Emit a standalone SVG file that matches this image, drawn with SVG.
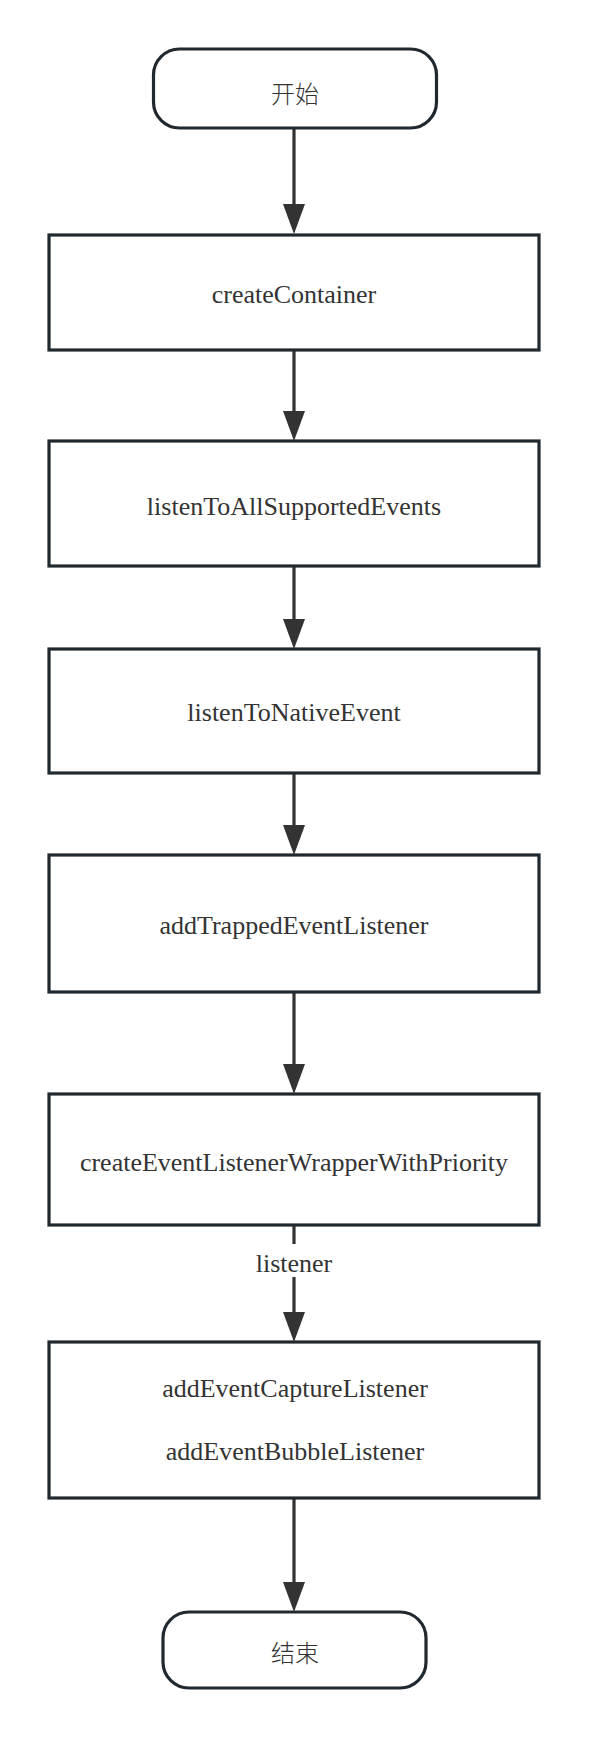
<svg xmlns="http://www.w3.org/2000/svg" width="590" height="1738" viewBox="0 0 590 1738">
<defs>
<style>
.node{fill:#ffffff;stroke:#212930;stroke-width:3.2}
.lbl{font-family:'Liberation Serif','Times New Roman','DejaVu Serif',serif;font-size:26px;fill:#333333;text-anchor:middle}
.cjk{font-family:'Noto Sans CJK SC',sans-serif;font-size:24px;font-weight:300;fill:#333333;text-anchor:middle}
.edge{stroke:#333333;stroke-width:3.2;fill:none}
.head{fill:#333333}
</style>
</defs>
<rect width="590" height="1738" fill="#ffffff"/>
<g id="edges">
<line class="edge" x1="294" y1="128" x2="294" y2="204"/>
<path class="head" d="M283,204 L305,204 L294,234 Z"/>
<line class="edge" x1="294" y1="350" x2="294" y2="411"/>
<path class="head" d="M283,411 L305,411 L294,441 Z"/>
<line class="edge" x1="294" y1="566" x2="294" y2="619"/>
<path class="head" d="M283,619 L305,619 L294,649 Z"/>
<line class="edge" x1="294" y1="773" x2="294" y2="825"/>
<path class="head" d="M283,825 L305,825 L294,855 Z"/>
<line class="edge" x1="294" y1="992" x2="294" y2="1064"/>
<path class="head" d="M283,1064 L305,1064 L294,1094 Z"/>
<line class="edge" x1="294" y1="1225" x2="294" y2="1244"/>
<line class="edge" x1="294" y1="1277" x2="294" y2="1312"/>
<path class="head" d="M283,1312 L305,1312 L294,1342 Z"/>
<text class="lbl" x="294" y="1272">listener</text>
<line class="edge" x1="294" y1="1498" x2="294" y2="1582"/>
<path class="head" d="M283,1582 L305,1582 L294,1612 Z"/>
</g>
<g id="start">
<rect class="node" x="153.5" y="49" width="283" height="79" rx="26" ry="26"/>
<text class="cjk" x="295" y="103">开始</text>
</g>
<g id="createContainer">
<rect class="node" x="49" y="235" width="490" height="115"/>
<text class="lbl" x="294" y="303">createContainer</text>
</g>
<g id="listenToAllSupportedEvents">
<rect class="node" x="49" y="441" width="490" height="125"/>
<text class="lbl" x="294" y="515">listenToAllSupportedEvents</text>
</g>
<g id="listenToNativeEvent">
<rect class="node" x="49" y="649" width="490" height="124"/>
<text class="lbl" x="294" y="721">listenToNativeEvent</text>
</g>
<g id="addTrappedEventListener">
<rect class="node" x="49" y="855" width="490" height="137"/>
<text class="lbl" x="294" y="934">addTrappedEventListener</text>
</g>
<g id="createEventListenerWrapperWithPriority">
<rect class="node" x="49" y="1094" width="490" height="131"/>
<text class="lbl" x="294" y="1171">createEventListenerWrapperWithPriority</text>
</g>
<g id="addListeners">
<rect class="node" x="49" y="1342" width="490" height="156"/>
<text class="lbl" x="295" y="1397">addEventCaptureListener</text>
<text class="lbl" x="295" y="1460">addEventBubbleListener</text>
</g>
<g id="end">
<rect class="node" x="163" y="1612" width="263" height="76" rx="26" ry="26"/>
<text class="cjk" x="295" y="1662">结束</text>
</g>
</svg>
